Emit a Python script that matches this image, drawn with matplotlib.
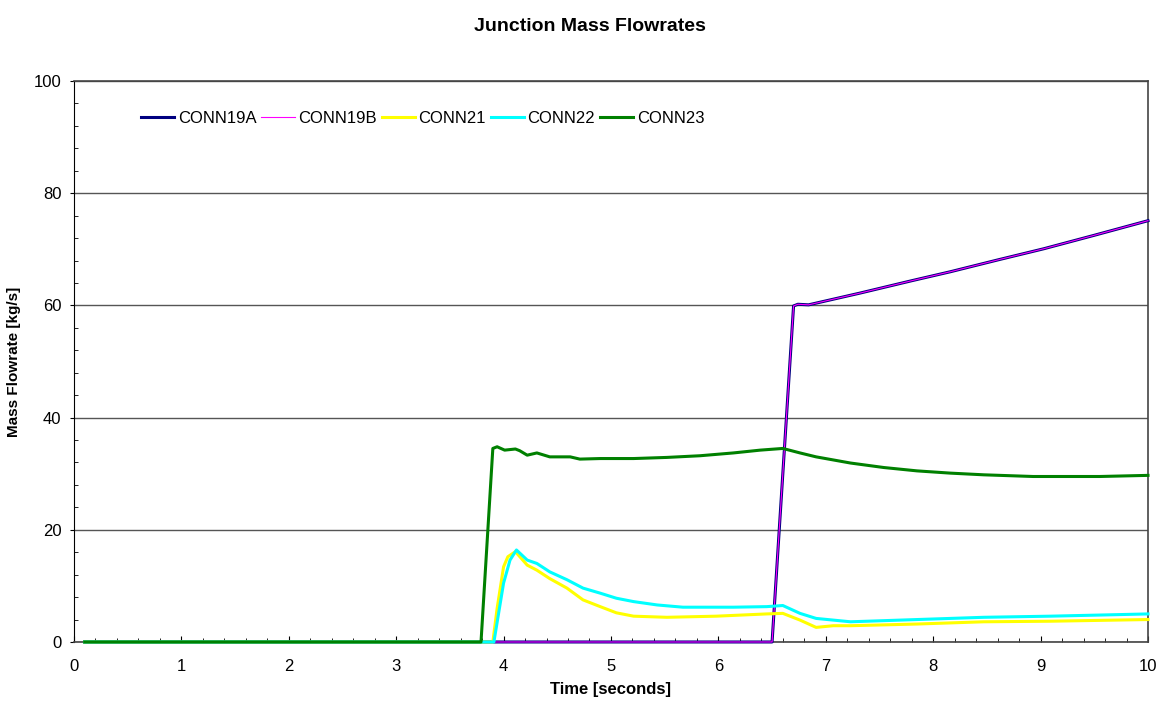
import matplotlib.pyplot as plt
from matplotlib.ticker import MultipleLocator

plt.rcParams['font.family'] = ['Liberation Sans', 'DejaVu Sans']

# Junction mass flowrates [kg/s] against time [s]
t_19 = [0.1, 3.9, 6.48, 6.50, 6.60, 6.70, 6.74, 6.84, 7.32, 7.80, 8.16, 8.60, 9.03, 9.50, 10.0]
conn19a = [0.0, 0.0, 0.0, 0.0, 30.0, 59.9, 60.2, 60.1, 62.2, 64.4, 66.0, 68.1, 70.1, 72.5, 75.1]
conn19b = conn19a

t_21 = [0.1, 3.90, 3.94, 4.00, 4.04, 4.11, 4.22, 4.31, 4.43, 4.59, 4.74, 4.90, 5.05, 5.21,
        5.52, 5.98, 6.45, 6.60, 6.76, 6.91, 7.07, 7.23, 7.85, 8.47, 9.09, 10.0]
conn21 = [0.0, 0.0, 6.0, 13.4, 15.2, 16.1, 13.7, 12.8, 11.3, 9.6, 7.5, 6.3, 5.2, 4.6,
          4.4, 4.6, 5.0, 5.1, 3.9, 2.6, 2.9, 2.9, 3.2, 3.6, 3.7, 4.0]

t_22 = [0.1, 3.91, 4.00, 4.06, 4.12, 4.22, 4.31, 4.43, 4.59, 4.74, 4.90, 5.05, 5.21, 5.43,
        5.67, 6.14, 6.45, 6.60, 6.76, 6.91, 7.23, 7.85, 8.47, 9.09, 9.55, 10.0]
conn22 = [0.0, 0.0, 10.5, 14.6, 16.4, 14.6, 14.0, 12.5, 11.1, 9.6, 8.7, 7.8, 7.2, 6.6,
          6.2, 6.2, 6.3, 6.5, 5.1, 4.2, 3.6, 4.0, 4.4, 4.6, 4.8, 5.0]

t_23 = [0.1, 3.79, 3.90, 3.94, 4.01, 4.11, 4.15, 4.22, 4.31, 4.43, 4.62, 4.71, 4.90, 5.21,
        5.52, 5.83, 6.14, 6.39, 6.60, 6.76, 6.91, 7.23, 7.54, 7.85, 8.16, 8.47, 8.93,
        9.55, 10.0]
conn23 = [0.0, 0.0, 34.5, 34.8, 34.2, 34.4, 34.1, 33.3, 33.7, 33.0, 33.0, 32.6, 32.7, 32.7,
          32.9, 33.2, 33.7, 34.2, 34.5, 33.7, 33.0, 31.9, 31.1, 30.5, 30.1, 29.8, 29.5,
          29.5, 29.7]

fig = plt.figure(figsize=(11.61, 7.02), dpi=100)
ax = fig.add_axes([0.0637, 0.0855, 0.9251, 0.7991])

ax.plot(t_19, conn19a, color='#000080', lw=2.2, label='CONN19A', clip_on=False, zorder=3)
ax.plot(t_19, conn19b, color='#ff00ff', lw=0.8, label='CONN19B', clip_on=False, zorder=3)
ax.plot(t_21, conn21, color='#ffff00', lw=2.2, label='CONN21', clip_on=False, zorder=3)
ax.plot(t_22, conn22, color='#00ffff', lw=2.2, label='CONN22', clip_on=False, zorder=3)
ax.plot(t_23, conn23, color='#008000', lw=2.2, label='CONN23', clip_on=False, zorder=3)

ax.set_xlim(0, 10)
ax.set_ylim(0, 100)
ax.xaxis.set_major_locator(MultipleLocator(1))
ax.xaxis.set_minor_locator(MultipleLocator(0.2))
ax.yaxis.set_major_locator(MultipleLocator(20))
ax.yaxis.set_minor_locator(MultipleLocator(4))
ax.tick_params(axis='x', which='major', direction='in', length=4, labelsize=12, pad=12)
ax.tick_params(axis='x', which='minor', direction='in', length=3)
ax.tick_params(axis='y', which='major', direction='out', length=3, labelsize=12, pad=6)
ax.tick_params(axis='y', which='minor', direction='in', length=3)

ax.grid(axis='y', which='major', color='#555555', lw=1.0)
for side in ['top', 'right', 'bottom']:
    ax.spines[side].set_color('#444444')
    ax.spines[side].set_linewidth(1.2)
ax.spines['left'].set_color('black')

ax.set_xlabel('Time [seconds]', fontsize=12, fontweight='bold', labelpad=6)
ax.set_ylabel('Mass Flowrate [kg/s]', fontsize=11, fontweight='bold', labelpad=9)
fig.text(0.508, 0.962, 'Junction Mass Flowrates', fontsize=14, fontweight='bold',
         ha='center', va='center')

ax.legend(loc='center left', bbox_to_anchor=(0.0624, 0.934), ncol=5, frameon=False,
          fontsize=12, handlelength=2.0, handletextpad=0.2, columnspacing=0.3,
          borderpad=0, borderaxespad=0)

fig.savefig('out.png', dpi=100)
